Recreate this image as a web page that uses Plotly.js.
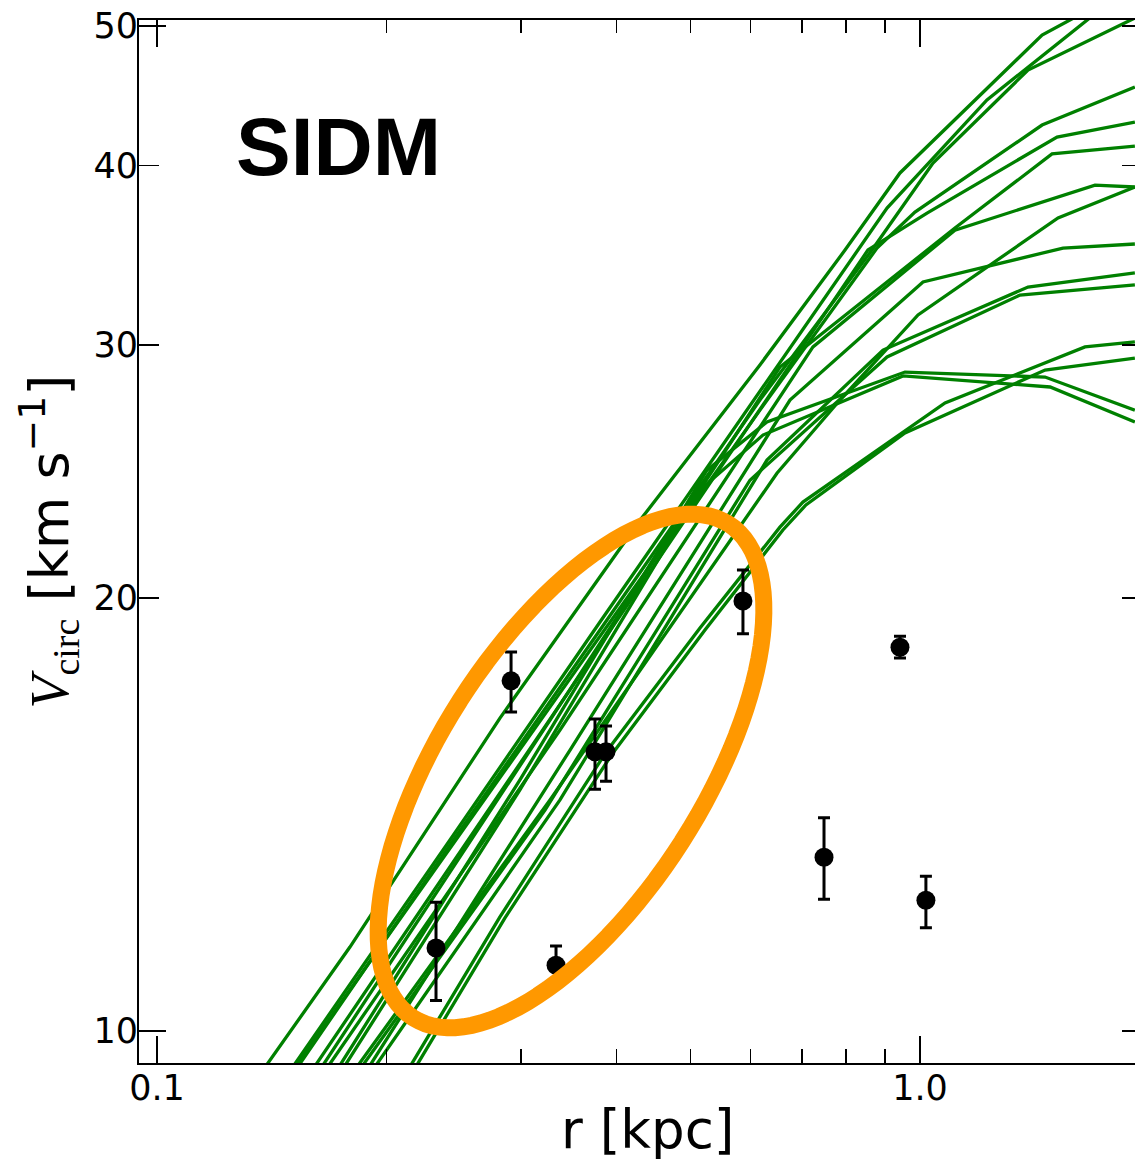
<!DOCTYPE html>
<html>
<head>
<meta charset="utf-8">
<script src="https://cdn.plot.ly/plotly-3.0.1.min.js"></script>
<style>html,body{margin:0;padding:0;background:#fff;}#chart{width:1135px;height:1160px;}</style>
</head>
<body>
<div id="chart"></div>
<script>
// ---- model rotation curves (r in kpc, Vcirc in km/s) ----
const c1_r = [0.1292, 0.1790, 0.2815, 0.4296, 0.6169, 0.7975, 0.9414, 1.4454, 1.9126];
const c1_v = [8.954, 11.439, 16.506, 22.66, 29.06, 34.93, 39.52, 49.29, 53.40];
const c2_r = [0.1406, 0.2421, 0.3807, 0.5986, 0.9053, 1.2240, 1.6553, 1.9126];
const c2_v = [8.954, 13.578, 19.252, 27.25, 37.36, 44.42, 50.49, 53.66];
const c3_r = [0.1428, 0.2421, 0.3807, 0.6169, 0.8651, 1.0400, 1.3853, 1.9126];
const c3_v = [8.954, 13.470, 19.007, 27.47, 34.93, 40.15, 46.60, 50.65];
const c4_r = [0.1415, 0.2421, 0.3807, 0.6169, 0.8783, 0.9850, 1.4454, 1.9126];
const c4_v = [8.954, 13.406, 18.825, 27.03, 35.04, 37.12, 42.67, 45.35];
const c5_r = [0.1503, 0.3584, 0.8546, 1.0214, 1.5122, 1.9126];
const c5_v = [8.954, 17.685, 34.93, 37.06, 41.86, 42.88];
const c6_r = [0.1540, 0.3274, 0.6553, 1.1112, 1.4894, 1.9126];
const c6_v = [8.954, 16.454, 28.96, 36.18, 40.74, 41.26];
const c7_r = [0.1563, 0.3374, 0.7240, 1.1112, 1.6957, 1.9126];
const c7_v = [8.954, 16.193, 29.91, 36.06, 38.76, 38.64];
const c8_r = [0.1701, 0.3274, 0.6494, 0.7854, 0.9940, 1.5167, 1.9126];
const c8_v = [8.954, 14.477, 24.43, 27.47, 31.48, 36.77, 38.64];
const c9_r = [0.1780, 0.3478, 0.6754, 1.0091, 1.5396, 1.9126];
const c9_v = [8.954, 15.682, 27.47, 33.19, 35.04, 35.27];
const c10_r = [0.1801, 0.3374, 0.6301, 0.8944, 1.3853, 1.9126];
const c10_v = [8.954, 14.477, 24.95, 29.76, 32.92, 33.67];
const c11_r = [0.1727, 0.3225, 0.5986, 0.9053, 1.3524, 1.9126];
const c11_v = [8.954, 14.247, 24.16, 29.43, 32.50, 33.03];
const c12_r = [0.2020, 0.2815, 0.3878, 0.5148, 0.6553, 0.7024, 1.0784, 1.6453, 1.9126];
const c12_v = [8.954, 12.003, 15.632, 19.068, 22.41, 23.33, 27.34, 29.91, 30.15];
const c13_r = [0.2057, 0.2858, 0.3949, 0.5226, 0.6612, 0.7087, 0.9557, 1.4585, 1.9126];
const c13_v = [8.954, 11.984, 15.582, 19.007, 22.31, 23.22, 26.06, 28.82, 29.38];
const c14_r = [0.1626, 0.2990, 0.5257, 0.6301, 0.9557, 1.4585, 1.9126];
const c14_v = [8.954, 14.949, 24.55, 26.52, 28.73, 28.50, 27.03];
const c15_r = [0.1651, 0.2990, 0.5148, 0.6225, 0.9500, 1.4808, 1.9126];
const c15_v = [8.954, 14.712, 23.78, 25.97, 28.55, 28.05, 26.52];

// ---- observed data points ----
const obs_r = [0.2321, 0.2911, 0.3334, 0.3750, 0.3877, 0.5861, 0.7485, 0.9414, 1.018];
const obs_v = [11.42, 17.52, 11.11, 15.64, 15.64, 19.91, 13.21, 18.49, 12.33];
const obs_err_plus = [0.87, 0.83, 0.35, 0.84, 0.66, 1.01, 0.86, 0.33, 0.48];
const obs_err_minus = [0.92, 0.85, 0.31, 0.91, 0.72, 1.02, 0.86, 0.32, 0.53];

// ---- ticks ----
const xMajorTicks = [0.1, 1.0];
const xMajorText = ['0.1', '1.0'];
const xMinorTicks = [0.2, 0.3, 0.4, 0.5, 0.6, 0.7, 0.8, 0.9];
const yTicks = [10, 20, 30, 40, 50];
const yTickText = ['10', '20', '30', '40', '50'];
const yLongTicks = [10, 50];

const curves = [
  [c1_r, c1_v], [c2_r, c2_v], [c3_r, c3_v], [c4_r, c4_v], [c5_r, c5_v],
  [c6_r, c6_v], [c7_r, c7_v], [c8_r, c8_v], [c9_r, c9_v], [c10_r, c10_v],
  [c11_r, c11_v], [c12_r, c12_v], [c13_r, c13_v], [c14_r, c14_v], [c15_r, c15_v]
];

const traces = curves.map(c => ({
  x: c[0], y: c[1], type: 'scatter', mode: 'lines',
  line: {color: '#008000', width: 3.3}, hoverinfo: 'skip', showlegend: false
}));

traces.push({
  x: obs_r, y: obs_v, type: 'scatter', mode: 'markers',
  marker: {color: '#000', size: 19},
  error_y: {type: 'data', symmetric: false, array: obs_err_plus, arrayminus: obs_err_minus,
            color: '#000', thickness: 3, width: 6},
  showlegend: false, hoverinfo: 'skip'
});
// empty traces to activate the extra tick-only axes
traces.push({x: [], y: [], yaxis: 'y2', type: 'scatter', mode: 'lines', showlegend: false});
traces.push({x: [], y: [], yaxis: 'y3', type: 'scatter', mode: 'lines', showlegend: false});
traces.push({x: [], y: [], xaxis: 'x2', type: 'scatter', mode: 'lines', showlegend: false});

// plot area in pixels
const W = 1135, H = 1160;
const mL = 139, mR = 0, mT = 20, mB = 97;
const pw = W - mL - mR, ph = H - mT - mB;

// ellipse (annotation) in pixel space -> paper
function ellipsePath(cx, cy, a, b, angDeg) {
  const th = angDeg * Math.PI / 180;
  let d = '';
  const n = 120;
  for (let i = 0; i <= n; i++) {
    const t = 2 * Math.PI * i / n;
    const px = cx + a * Math.cos(th) * Math.cos(t) - b * Math.sin(th) * Math.sin(t);
    const py = cy - (a * Math.sin(th) * Math.cos(t) + b * Math.cos(th) * Math.sin(t));
    const xp = (px - mL) / pw, yp = (mT + ph - py) / ph;
    d += (i === 0 ? 'M' : 'L') + xp.toFixed(5) + ',' + yp.toFixed(5);
  }
  return d + 'Z';
}

const xRange = [-1.02359, 0.28178];
const yRange = [Math.log10(9.50), Math.log10(50.49)];
const tickFont = {family: 'DejaVu Sans', size: 35, color: '#000'};

const layout = {
  width: W, height: H,
  margin: {l: mL, r: mR, t: mT, b: mB},
  paper_bgcolor: '#fff', plot_bgcolor: '#fff',
  showlegend: false,
  xaxis: {
    type: 'log', range: xRange,
    showline: true, linecolor: '#000', linewidth: 2, mirror: true,
    ticks: 'inside', ticklen: 27, tickwidth: 1.5, tickcolor: '#000',
    tickmode: 'array', tickvals: xMajorTicks, ticktext: xMajorText,
    minor: {tickmode: 'array', tickvals: xMinorTicks, ticks: 'inside', ticklen: 14, tickwidth: 1.5, tickcolor: '#000', showgrid: false},
    showgrid: false, zeroline: false, tickfont: tickFont, ticklabelstandoff: -7
  },
  xaxis2: {
    type: 'log', range: xRange, overlaying: 'x', side: 'top', anchor: 'y',
    showline: false, ticks: 'inside', ticklen: 27, tickwidth: 1.5, tickcolor: '#000',
    tickmode: 'array', tickvals: xMajorTicks, showticklabels: false,
    minor: {tickmode: 'array', tickvals: xMinorTicks, ticks: 'inside', ticklen: 13, tickwidth: 1.5, tickcolor: '#000', showgrid: false},
    showgrid: false, zeroline: false
  },
  yaxis: {
    type: 'log', range: yRange,
    showline: true, linecolor: '#000', linewidth: 2, mirror: false,
    ticks: 'inside', ticklen: 20, tickwidth: 1.5, tickcolor: '#000',
    tickmode: 'array', tickvals: yTicks, ticktext: yTickText,
    showgrid: false, zeroline: false, tickfont: tickFont, ticklabelstandoff: -8,
    title: {text: '<span style="font-family:\'Liberation Serif\'"><i>V</i><sub>circ</sub></span> [km s<sup>−1</sup>]',
            font: {family: 'DejaVu Sans', size: 54, color: '#000'}, standoff: 8}
  },
  yaxis2: {
    type: 'log', range: yRange, overlaying: 'y', side: 'right', anchor: 'x',
    showline: false, ticks: 'inside', ticklen: 13, tickwidth: 1.5, tickcolor: '#000',
    tickmode: 'array', tickvals: yTicks, showticklabels: false,
    showgrid: false, zeroline: false
  },
  yaxis3: {
    type: 'log', range: yRange, overlaying: 'y', side: 'left', anchor: 'x',
    showline: false, ticks: 'inside', ticklen: 27, tickwidth: 1.5, tickcolor: '#000',
    tickmode: 'array', tickvals: yLongTicks, showticklabels: false,
    showgrid: false, zeroline: false
  },
  shapes: [{
    type: 'path', xref: 'paper', yref: 'paper',
    path: ellipsePath(571, 771, 293, 131.5, 57.4),
    line: {color: '#ff9800', width: 17}, fillcolor: 'rgba(0,0,0,0)', layer: 'above'
  }],
  annotations: [{
    xref: 'paper', yref: 'paper', x: (338 - mL) / pw, y: (mT + ph - 146) / ph,
    xanchor: 'center', yanchor: 'middle', showarrow: false,
    text: '<b>SIDM</b>', font: {family: 'Liberation Sans', size: 82, color: '#000'}
  }, {
    xref: 'paper', yref: 'paper', x: (647 - mL) / pw, y: (mT + ph - 1129) / ph,
    xanchor: 'center', yanchor: 'middle', showarrow: false, borderpad: 0,
    text: 'r [kpc]', font: {family: 'DejaVu Sans', size: 53, color: '#000'}
  }]
};

Plotly.newPlot('chart', traces, layout, {staticPlot: true, displayModeBar: false});
</script>
</body>
</html>
